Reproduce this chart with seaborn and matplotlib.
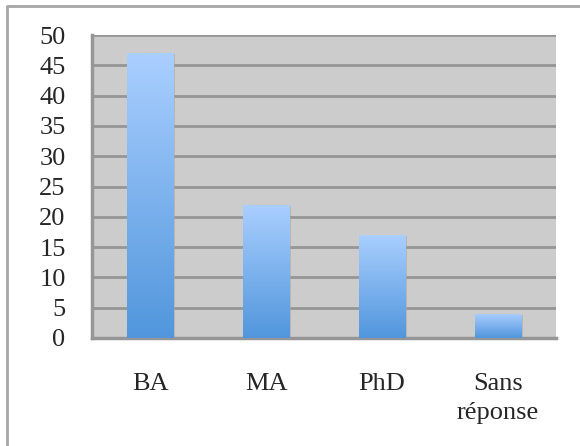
import numpy as np
import pandas as pd
import seaborn as sns
import matplotlib
matplotlib.use("Agg")
import matplotlib.pyplot as plt
from matplotlib.colors import LinearSegmentedColormap
from matplotlib.patches import Rectangle
from matplotlib.lines import Line2D

categories = ["BA", "MA", "PhD", "Sans\nréponse"]
counts = [47, 22, 17, 4]
y_ticks = [0, 5, 10, 15, 20, 25, 30, 35, 40, 45, 50]


def main():
    sns.set_style("white")
    plt.rcParams["font.family"] = ["Liberation Serif", "DejaVu Serif"]

    df = pd.DataFrame({"niveau": categories, "n": counts})

    fig = plt.figure(figsize=(5.8, 4.46), dpi=100)
    # outer frame of the chart (only left and top edges visible)
    fx, fy = 7 / 580, 1 - 6 / 446
    fig.lines.append(Line2D([fx, fx, 1.0], [0.0, fy, fy], transform=fig.transFigure,
                            color="#a6a6a6", linewidth=2))

    ax = fig.add_axes([92 / 580, (446 - 338) / 446, (556 - 92) / 580, (338 - 35) / 446])
    ax.set_facecolor("#cccccc")

    sns.barplot(data=df, x="niveau", y="n", ax=ax, width=0.405,
                color="#5196dc", saturation=1, zorder=3)

    cmap = LinearSegmentedColormap.from_list("grad", ["#5196dc", "#aacfff"])
    grad = np.linspace(0, 1, 256).reshape(-1, 1)
    for p in ax.patches:
        x0, y0 = p.get_x(), p.get_y()
        w, h = p.get_width(), p.get_height()
        # soft shadow
        ax.add_patch(Rectangle((x0 + 0.012, y0), w, h - 0.15, facecolor="#a8a8a8",
                               edgecolor="none", alpha=0.6, zorder=2.5))
        im = ax.imshow(grad, extent=[x0, x0 + w, y0, y0 + h], origin="lower",
                       cmap=cmap, aspect="auto", zorder=3.5)
        im.set_clip_path(p)
        p.set_facecolor("none")
        p.set_edgecolor("none")

    ax.set_xlim(-0.5, 3.5)
    ax.set_ylim(0, 50)
    ax.set_yticks(y_ticks)
    ax.yaxis.grid(True, color="#969696", linewidth=2, zorder=1)
    ax.set_axisbelow(True)
    ax.set_xticks([-0.5, 0.5, 1.5, 2.5, 3.5], minor=False)
    ax.set_xticklabels([])
    ax.set_xticks([0, 1, 2, 3], minor=True)
    ax.set_xticklabels(categories, minor=True, fontsize=19, linespacing=1.45)
    ax.tick_params(axis="x", which="major", length=8, width=2, color="#969696", direction="out")
    ax.tick_params(axis="x", which="minor", length=0, pad=25)
    ax.tick_params(axis="y", length=8, width=2, color="#969696", labelsize=19, pad=11)
    for lbl in ax.get_xticklabels(minor=True):
        lbl.set_verticalalignment("top")

    for s in ["top", "right"]:
        ax.spines[s].set_visible(False)
    for s in ["left", "bottom"]:
        ax.spines[s].set_color("#969696")
        ax.spines[s].set_linewidth(2.5)
    ax.set_xlabel("")
    ax.set_ylabel("")

    fig.savefig("out.png", dpi=100)
    plt.close(fig)


if __name__ == "__main__":
    main()
